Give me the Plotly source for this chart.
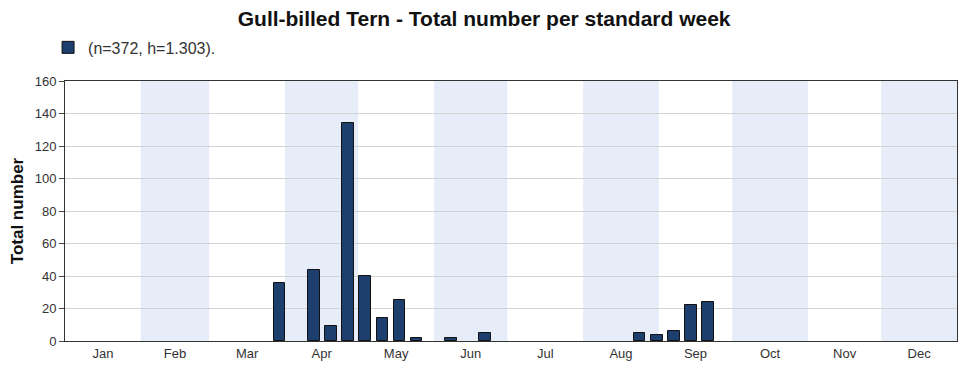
import plotly.graph_objects as go

# Data
months = ["Jan", "Feb", "Mar", "Apr", "May", "Jun", "Jul", "Aug", "Sep", "Oct", "Nov", "Dec"]
month_days = [31, 28, 31, 30, 31, 30, 31, 31, 30, 31, 30, 31]
weeks = [13, 15, 16, 17, 18, 19, 20, 21, 23, 25, 34, 35, 36, 37, 38]
counts = [36, 44, 9, 134, 40, 14, 25, 2, 2, 5, 5, 4, 6, 22, 24]
legend_label = "(n=372, h=1.303)."
title = "Gull-billed Tern - Total number per standard week"

year_days = sum(month_days)
week_len = year_days / 52.0
x_centers = [(w - 0.5) * week_len for w in weeks]

starts = [0]
for d in month_days:
    starts.append(starts[-1] + d)
mids = [(starts[i] + starts[i + 1]) / 2 for i in range(12)]

font = "Liberation Sans, Arial, sans-serif"

fig = go.Figure()
fig.add_trace(go.Bar(
    x=x_centers, y=counts, width=week_len * 0.68,
    name=legend_label,
    marker=dict(color="#1c3f6e", line=dict(color="#111111", width=1)),
    showlegend=True,
))

shapes = []
for i in range(1, 12, 2):
    shapes.append(dict(type="rect", xref="x", yref="paper", x0=starts[i], x1=starts[i + 1],
                       y0=0, y1=1, fillcolor="#e7edf8", line=dict(width=0), layer="below"))

fig.update_layout(
    width=958, height=357,
    margin=dict(l=57, r=9, t=73, b=24, autoexpand=False),
    paper_bgcolor="white", plot_bgcolor="white",
    font=dict(family=font, size=13, color="#333333"),
    title=dict(text="<b>" + title + "</b>", xref="container", yref="container",
               x=0.497, xanchor="center", y=0.969, yanchor="middle",
               font=dict(family=font, size=21, color="#111111")),
    showlegend=True,
    legend=dict(x=-0.019, y=1.129, xanchor="left", yanchor="middle", orientation="h",
                font=dict(family=font, size=16, color="#333333"), bgcolor="rgba(0,0,0,0)"),
    shapes=shapes,
    bargap=0,
    xaxis=dict(range=[0, year_days], tickvals=mids, ticktext=months, ticks="",
               showgrid=False, zeroline=False, showline=True, mirror=True, automargin=False,
               linecolor="#333333", linewidth=1, tickfont=dict(size=13, color="#333333")),
    xaxis2=dict(range=[0, year_days], overlaying="x", anchor="y", side="bottom",
                tickvals=starts, showticklabels=False, ticks="outside", ticklen=20,
                tickcolor="#333333", tickwidth=1.5, showgrid=False, zeroline=False, showline=False),
    yaxis=dict(range=[0, 160], dtick=20, tick0=0, ticks="outside", ticklen=5, tickcolor="#444444",
               showgrid=True, gridcolor="#d3d3d3", gridwidth=1, zeroline=False, automargin=False,
               showline=True, mirror=True, linecolor="#333333", linewidth=1,
               title=dict(text="<b>Total number</b>", font=dict(family=font, size=17, color="#111111"),
                          standoff=6),
               tickfont=dict(size=13, color="#333333")),
)

fig.write_html("out.html")
